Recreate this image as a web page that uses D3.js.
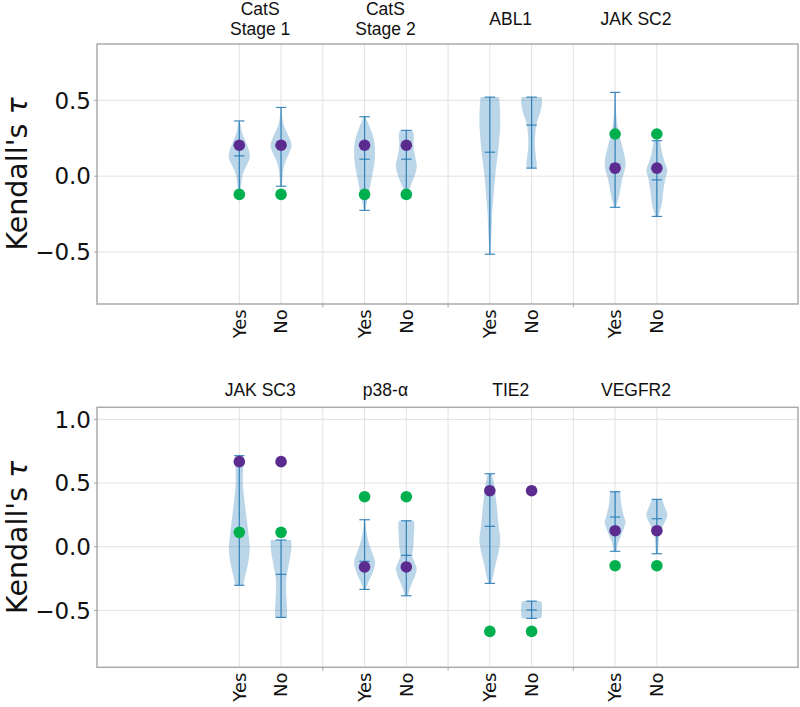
<!DOCTYPE html>
<html>
<head>
<meta charset="utf-8">
<script src="https://cdn.jsdelivr.net/npm/d3@7"></script>
<style>
  body { margin: 0; background: #fff; }
  svg { display: block; }
</style>
</head>
<body>
<script>
// ---- data ----
var subLabels = ["Yes", "No"];

// top panel
var topGroups = [["CatS", "Stage 1"], ["CatS", "Stage 2"], ["ABL1"], ["JAK SC2"]];
var topMin = [-0.115, -0.066, -0.225, -0.115, -0.514, 0.053, -0.205, -0.265];
var topMax = [0.364, 0.453, 0.392, 0.302, 0.521, 0.521, 0.552, 0.234];
var topMid = [0.134, 0.200, 0.112, 0.112, 0.158, 0.337, 0.079, -0.024];
// relative density profiles, [tau, density]
var topProfiles = [
  [[0.364, 0.3], [0.33, 1.5], [0.28, 3], [0.24, 5.5], [0.2, 8], [0.16, 10], [0.12, 10.4], [0.08, 8], [0.04, 5], [0.0, 3], [-0.05, 2], [-0.115, 1]],
  [[0.453, 0.3], [0.4, 1], [0.34, 2.5], [0.3, 5], [0.25, 8.5], [0.2, 10.4], [0.15, 8], [0.1, 4.5], [0.05, 2.5], [0.0, 1.5], [-0.066, 1]],
  [[0.392, 1], [0.35, 3.5], [0.3, 6.5], [0.25, 9], [0.2, 10.2], [0.15, 10.4], [0.1, 10], [0.05, 9], [0.0, 7.5], [-0.05, 6], [-0.1, 4.5], [-0.15, 3], [-0.2, 1.5], [-0.225, 0.8]],
  [[0.302, 6], [0.27, 7.5], [0.22, 7], [0.17, 7.5], [0.12, 9], [0.07, 10.4], [0.03, 9.5], [-0.02, 7], [-0.06, 4.5], [-0.1, 2.5], [-0.115, 2]],
  [[0.521, 9.3], [0.45, 10], [0.35, 10.4], [0.25, 9.5], [0.15, 8], [0.08, 6.7], [-0.02, 5], [-0.13, 3.7], [-0.24, 2.3], [-0.35, 1.7], [-0.46, 0.8], [-0.514, 0.5]],
  [[0.521, 10], [0.48, 10.4], [0.415, 8.3], [0.36, 5.5], [0.306, 4], [0.2, 3.3], [0.087, 5], [0.053, 5]],
  [[0.552, 0.3], [0.45, 0.8], [0.35, 2], [0.28, 4], [0.2, 7], [0.09, 10.4], [0.04, 9.5], [-0.02, 7], [-0.13, 4], [-0.19, 1.5], [-0.205, 0.8]],
  [[0.234, 3], [0.18, 4.5], [0.13, 6], [0.08, 8.5], [0.04, 10.4], [0.0, 9], [-0.07, 7], [-0.12, 6], [-0.18, 5], [-0.23, 3], [-0.265, 1.5]]
];
var topPurple = [0.204, 0.204, null, 0.053];
var topGreen = [-0.12, -0.12, null, 0.278];
var topTicks = [-0.5, 0.0, 0.5];
var topDomain = [-0.842, 0.871];

// bottom panel
var bottomGroups = [["JAK SC3"], ["p38-α"], ["TIE2"], ["VEGFR2"]];
var bottomMin = [-0.303, -0.555, -0.335, -0.385, -0.288, -0.563, -0.036, -0.055];
var bottomMax = [0.715, 0.053, 0.212, 0.204, 0.573, -0.427, 0.432, 0.372];
var bottomMid = [0.110, -0.217, -0.115, -0.068, 0.160, -0.497, 0.233, 0.220];
var bottomProfiles = [
  [[0.715, 3.7], [0.62, 3.8], [0.5, 3.5], [0.37, 5], [0.24, 7], [0.11, 9], [-0.03, 10.4], [-0.16, 8], [-0.26, 5], [-0.303, 4]],
  [[0.053, 10], [0.0, 10.4], [-0.08, 9], [-0.15, 7.5], [-0.21, 6], [-0.28, 5], [-0.34, 5], [-0.42, 5.5], [-0.5, 6], [-0.555, 6]],
  [[0.212, 0.5], [0.15, 1.2], [0.1, 2], [0.04, 3.5], [0.0, 5], [-0.06, 7.5], [-0.12, 9.5], [-0.16, 9], [-0.21, 7], [-0.27, 4], [-0.31, 2], [-0.335, 1]],
  [[0.204, 7.5], [0.15, 8], [0.08, 7.5], [0.0, 7], [-0.07, 6], [-0.12, 8], [-0.17, 10.4], [-0.22, 9], [-0.27, 6.5], [-0.33, 3.5], [-0.385, 1.5]],
  [[0.573, 2], [0.5, 4], [0.44, 5], [0.31, 7], [0.18, 8.5], [0.05, 10.4], [-0.03, 9], [-0.13, 6], [-0.24, 3], [-0.288, 1.5]],
  [[-0.427, 8.5], [-0.435, 9.7], [-0.45, 10.2], [-0.5, 10.4], [-0.545, 10.2], [-0.555, 9.7], [-0.563, 8.5]],
  [[0.432, 5], [0.38, 5.5], [0.34, 6], [0.28, 7.5], [0.23, 9], [0.2, 10.4], [0.15, 9], [0.11, 7], [0.06, 4.5], [0.03, 3], [-0.036, 1.5]],
  [[0.372, 5], [0.33, 7], [0.29, 9], [0.26, 10.4], [0.22, 9.5], [0.18, 7], [0.11, 3.5], [0.06, 2], [0.0, 1.5], [-0.055, 1]]
];
var bottomPurple = [0.668, -0.159, 0.44, 0.126];
var bottomGreen = [0.113, 0.393, -0.665, -0.149];
var bottomTicks = [-0.5, 0.0, 0.5, 1.0];
var bottomDomain = [-0.947, 1.095];

// ---- canvas ----
var width = 800,
    height = 707;

var svg = d3.select("body").append("svg")
    .attr("width", width)
    .attr("height", height);

var violinColor = "#1f77b4";
var purple = "#5c2b8f";
var green = "#00b04f";

// shared x scale: Yes/No at 3g, 3g+1, gap at 3g+2
var x = d3.scaleLinear()
    .domain([-3.408, 13.38])
    .range([97, 798]);

var tickFmt = function(d) { return d3.format(".1f")(d).replace("-", "\u2212"); };

function drawPanel(p) {
  var y = d3.scaleLinear().domain(p.domain).range([p.bottom, p.top]);
  var g = svg.append("g");
  var x0 = x.range()[0], x1 = x.range()[1];

  // grid
  g.selectAll(".hgrid").data(p.ticks).enter().append("line")
      .attr("x1", x0).attr("x2", x1)
      .attr("y1", d => y(d)).attr("y2", d => y(d))
      .attr("stroke", "#e2e2e2").attr("stroke-width", 1);
  g.selectAll(".vgrid").data(d3.range(0, 11)).enter().append("line")
      .attr("x1", d => x(d)).attr("x2", d => x(d))
      .attr("y1", p.top).attr("y2", p.bottom)
      .attr("stroke", "#e2e2e2").attr("stroke-width", 1);

  // y tick labels
  g.selectAll(".ytick").data(p.ticks).enter().append("text")
      .attr("x", x0 - 6).attr("y", d => y(d)).attr("dy", "0.36em")
      .attr("text-anchor", "end")
      .style("font-family", "DejaVu Sans").style("font-size", "23px")
      .attr("fill", "#111")
      .text(tickFmt);
  g.selectAll(".ytickm").data(p.ticks).enter().append("line")
      .attr("x1", x0 - 3).attr("x2", x0)
      .attr("y1", d => y(d)).attr("y2", d => y(d))
      .attr("stroke", "#aaa");

  // y label
  var yl = g.append("text")
      .attr("transform", "translate(27," + ((p.top + p.bottom) / 2) + ") rotate(-90)")
      .attr("text-anchor", "middle")
      .style("font-family", "DejaVu Sans").style("font-size", "28.5px")
      .attr("fill", "#111");
  yl.append("tspan").text("Kendall's ");
  yl.append("tspan").style("font-style", "italic").text("\u03c4");

  // violins
  var halfW = x(0.25) - x(0);
  var capW = x(0.125) - x(0);
  p.profiles.forEach(function(prof, i) {
    var gi = Math.floor(i / 2), si = i % 2;
    var cx = x(gi * 3 + si);
    var maxD = d3.max(prof, d => d[1]);
    var area = d3.area()
        .curve(d3.curveCatmullRom)
        .y(d => y(d[0]))
        .x0(d => cx - d[1] / maxD * halfW)
        .x1(d => cx + d[1] / maxD * halfW);
    g.append("path")
        .attr("d", area(prof))
        .attr("fill", violinColor)
        .attr("fill-opacity", 0.3);

    g.append("line")
        .attr("x1", cx).attr("x2", cx)
        .attr("y1", y(p.min[i])).attr("y2", y(p.max[i]))
        .attr("stroke", violinColor).attr("stroke-opacity", 0.85).attr("stroke-width", 1.2);
    [p.min[i], p.max[i], p.mid[i]].forEach(function(v) {
      g.append("line")
          .attr("x1", cx - capW).attr("x2", cx + capW)
          .attr("y1", y(v)).attr("y2", y(v))
          .attr("stroke", violinColor).attr("stroke-opacity", 0.85).attr("stroke-width", 1.2);
    });
  });

  // reference dots, same value at Yes and No
  p.groups.forEach(function(lab, gi) {
    [[p.purple[gi], purple], [p.green[gi], green]].forEach(function(pc) {
      if (pc[0] === null) return;
      subLabels.forEach(function(s, si) {
        g.append("circle")
            .attr("cx", x(gi * 3 + si)).attr("cy", y(pc[0]))
            .attr("r", 5.8).attr("fill", pc[1]);
      });
    });
  });

  // frame
  g.append("rect")
      .attr("x", x0).attr("y", p.top)
      .attr("width", x1 - x0).attr("height", p.bottom - p.top)
      .attr("fill", "none").attr("stroke", "#aaaaaa").attr("stroke-width", 1.5);

  // separator ticks
  g.selectAll(".sep").data([2, 5, 8]).enter().append("line")
      .attr("x1", d => x(d)).attr("x2", d => x(d))
      .attr("y1", p.bottom).attr("y2", p.bottom + 3.5)
      .attr("stroke", "#aaa");

  // Yes / No labels
  p.groups.forEach(function(lab, gi) {
    subLabels.forEach(function(s, si) {
      g.append("text")
          .attr("transform", "translate(" + (x(gi * 3 + si) + 6.3) + "," + (p.bottom + 5.3) + ") rotate(-90)")
          .attr("text-anchor", "end")
          .style("font-family", "DejaVu Sans").style("font-size", "18px")
          .attr("fill", "#111")
          .text(s);
    });

    // group title
    var t = g.append("text")
        .attr("text-anchor", "middle")
        .style("font-family", "Liberation Sans, Arial, sans-serif").style("font-size", "17.5px")
        .attr("fill", "#111");
    lab.forEach(function(line, li) {
      t.append("tspan")
          .attr("x", x(gi * 3 + 0.5))
          .attr("y", p.titleY + (li - (lab.length - 1) / 2) * 20)
          .text(line);
    });
  });
}

drawPanel({
  groups: topGroups, min: topMin, max: topMax, mid: topMid, profiles: topProfiles,
  purple: topPurple, green: topGreen, ticks: topTicks, domain: topDomain,
  top: 44, bottom: 304, titleY: 25
});

drawPanel({
  groups: bottomGroups, min: bottomMin, max: bottomMax, mid: bottomMid, profiles: bottomProfiles,
  purple: bottomPurple, green: bottomGreen, ticks: bottomTicks, domain: bottomDomain,
  top: 407.3, bottom: 667.3, titleY: 396
});
</script>
</body>
</html>
